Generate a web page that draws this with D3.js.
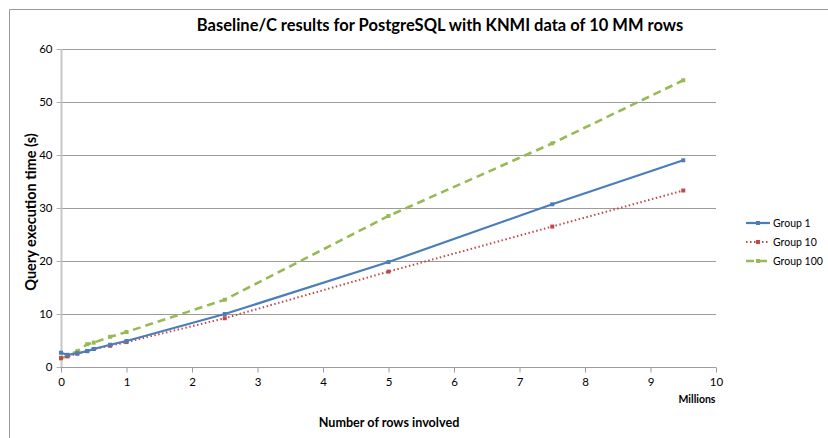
<!DOCTYPE html>
<html>
<head>
<meta charset="utf-8">
<script src="https://cdn.jsdelivr.net/npm/d3@7"></script>
<style>
  html, body { margin: 0; padding: 0; background: #fff; overflow: hidden; }
  svg { display: block; font-family: Lato, "Open Sans", sans-serif; }
</style>
</head>
<body>
<svg id="chart" width="828" height="438"></svg>
<script>
const rows = [0, 0.1, 0.25, 0.4, 0.5, 0.75, 1, 2.5, 5, 7.5, 9.5];
const group1 = [2.7, 2.3, 2.6, 3.0, 3.4, 4.2, 4.9, 10.0, 19.8, 30.7, 39.0];
const group10 = [1.7, 2.0, 2.5, 3.0, 3.4, 4.0, 4.7, 9.2, 18.0, 26.5, 33.3];
const group100 = [1.6, 2.1, 3.0, 4.3, 4.6, 5.7, 6.6, 12.7, 28.5, 42.2, 54.1];
const seriesNames = ["Group 1", "Group 10", "Group 100"];
const xTicks = [0, 1, 2, 3, 4, 5, 6, 7, 8, 9, 10];
const yTicks = [0, 10, 20, 30, 40, 50, 60];

const W = 828, H = 438;
const m = { top: 49, left: 61, right: 112, bottom: 71 };
const iW = W - m.left - m.right;
const iH = H - m.top - m.bottom;

const svg = d3.select("#chart");

// outer frame
svg.append("path").attr("d", `M9.5,${H + 2}V9.5H${W + 2}`)
  .attr("fill", "none").attr("stroke", "#9a9a9a").attr("stroke-width", 1);

// Title
svg.append("text")
  .attr("x", 440).attr("y", 31)
  .attr("text-anchor", "middle")
  .style("font-size", "16.5px").style("font-weight", "700").style("fill", "#000")
  .text("Baseline/C results for PostgreSQL with KNMI data of 10 MM rows");

const g = svg.append("g").attr("transform", `translate(${m.left},${m.top})`);

const x = d3.scaleLinear().domain([0, 10]).range([0, iW]);
const y = d3.scaleLinear().domain([0, 60]).range([iH, 0]);

// Grid
g.append("g").selectAll("line").data(yTicks.filter(d => d > 0)).join("line")
  .attr("x1", 0).attr("x2", iW)
  .attr("y1", d => Math.round(y(d)) + 0.5).attr("y2", d => Math.round(y(d)) + 0.5)
  .attr("stroke", "#9c9c9c").attr("stroke-width", 1);

// Y axis
g.append("g")
  .attr("transform", "translate(0.5,0)")
  .call(d3.axisLeft(y).tickValues(yTicks).tickSize(5).tickPadding(4))
  .call(ax => {
    ax.select(".domain").attr("stroke", "#c8c8c8").attr("stroke-width", 2).attr("d", `M0,0V${iH}`);
    ax.selectAll(".tick line").attr("stroke", "#b0b0b0");
    ax.selectAll(".tick text").style("fill", "#000").style("font-size", "11.5px").style("font-family", "Lato, sans-serif");
  });

// X axis
g.append("g")
  .attr("transform", `translate(0,${iH + 0.5})`)
  .call(d3.axisBottom(x).tickValues(xTicks).tickSize(5).tickPadding(5))
  .call(ax => {
    ax.select(".domain").attr("stroke", "#9c9c9c").attr("d", `M0,0H${iW}`);
    ax.selectAll(".tick line").attr("stroke", "#9c9c9c");
    ax.selectAll(".tick text").style("fill", "#000").style("font-size", "11.5px").style("font-family", "Lato, sans-serif");
  });

// axis titles
g.append("text")
  .attr("x", x(10) - 19).attr("y", iH + 36)
  .attr("text-anchor", "middle")
  .style("font-size", "10.5px").style("font-weight", "700")
  .text("Millions");
svg.append("text")
  .attr("x", 389).attr("y", 427)
  .attr("text-anchor", "middle")
  .style("font-size", "12.6px").style("font-weight", "700")
  .text("Number of rows involved");
svg.append("text")
  .attr("transform", `translate(36,${m.top + iH / 2 + 4}) rotate(-90)`)
  .attr("text-anchor", "middle")
  .style("font-size", "14.5px").style("font-weight", "700")
  .text("Query execution time (s)");

// Series
const series = [
  { name: seriesNames[0], values: group1, color: "#4a7ebb", dash: null, width: 2.2 },
  { name: seriesNames[1], values: group10, color: "#be4b48", dash: "1.5,2.5", width: 2 },
  { name: seriesNames[2], values: group100, color: "#98b954", dash: "8,5", width: 2.6 }
];

const line = d3.line().x(d => x(d[0])).y(d => y(d[1]));

series.slice().reverse().forEach(s => {
  const pts = rows.map((r, i) => [r, s.values[i]]);
  g.append("path").datum(pts)
    .attr("fill", "none").attr("stroke", s.color)
    .attr("stroke-width", s.width)
    .attr("stroke-dasharray", s.dash)
    .attr("d", line);
  g.append("g").selectAll("rect").data(pts).join("rect")
    .attr("x", d => x(d[0]) - 2).attr("y", d => y(d[1]) - 2)
    .attr("width", 4).attr("height", 4)
    .attr("fill", s.color);
});

// Legend
const legend = svg.append("g").attr("transform", "translate(746,223)");
series.forEach((s, i) => {
  const row = legend.append("g").attr("transform", `translate(0,${i * 19})`);
  row.append("line").attr("x1", 0).attr("x2", 24).attr("y1", 0).attr("y2", 0)
    .attr("stroke", s.color).attr("stroke-width", s.width)
    .attr("stroke-dasharray", s.dash);
  row.append("rect").attr("x", 10).attr("y", -2).attr("width", 4).attr("height", 4).attr("fill", s.color);
  row.append("text").attr("x", 27).attr("y", 4)
    .style("font-size", "10.5px").style("fill", "#000")
    .text(s.name);
});
</script>
</body>
</html>
